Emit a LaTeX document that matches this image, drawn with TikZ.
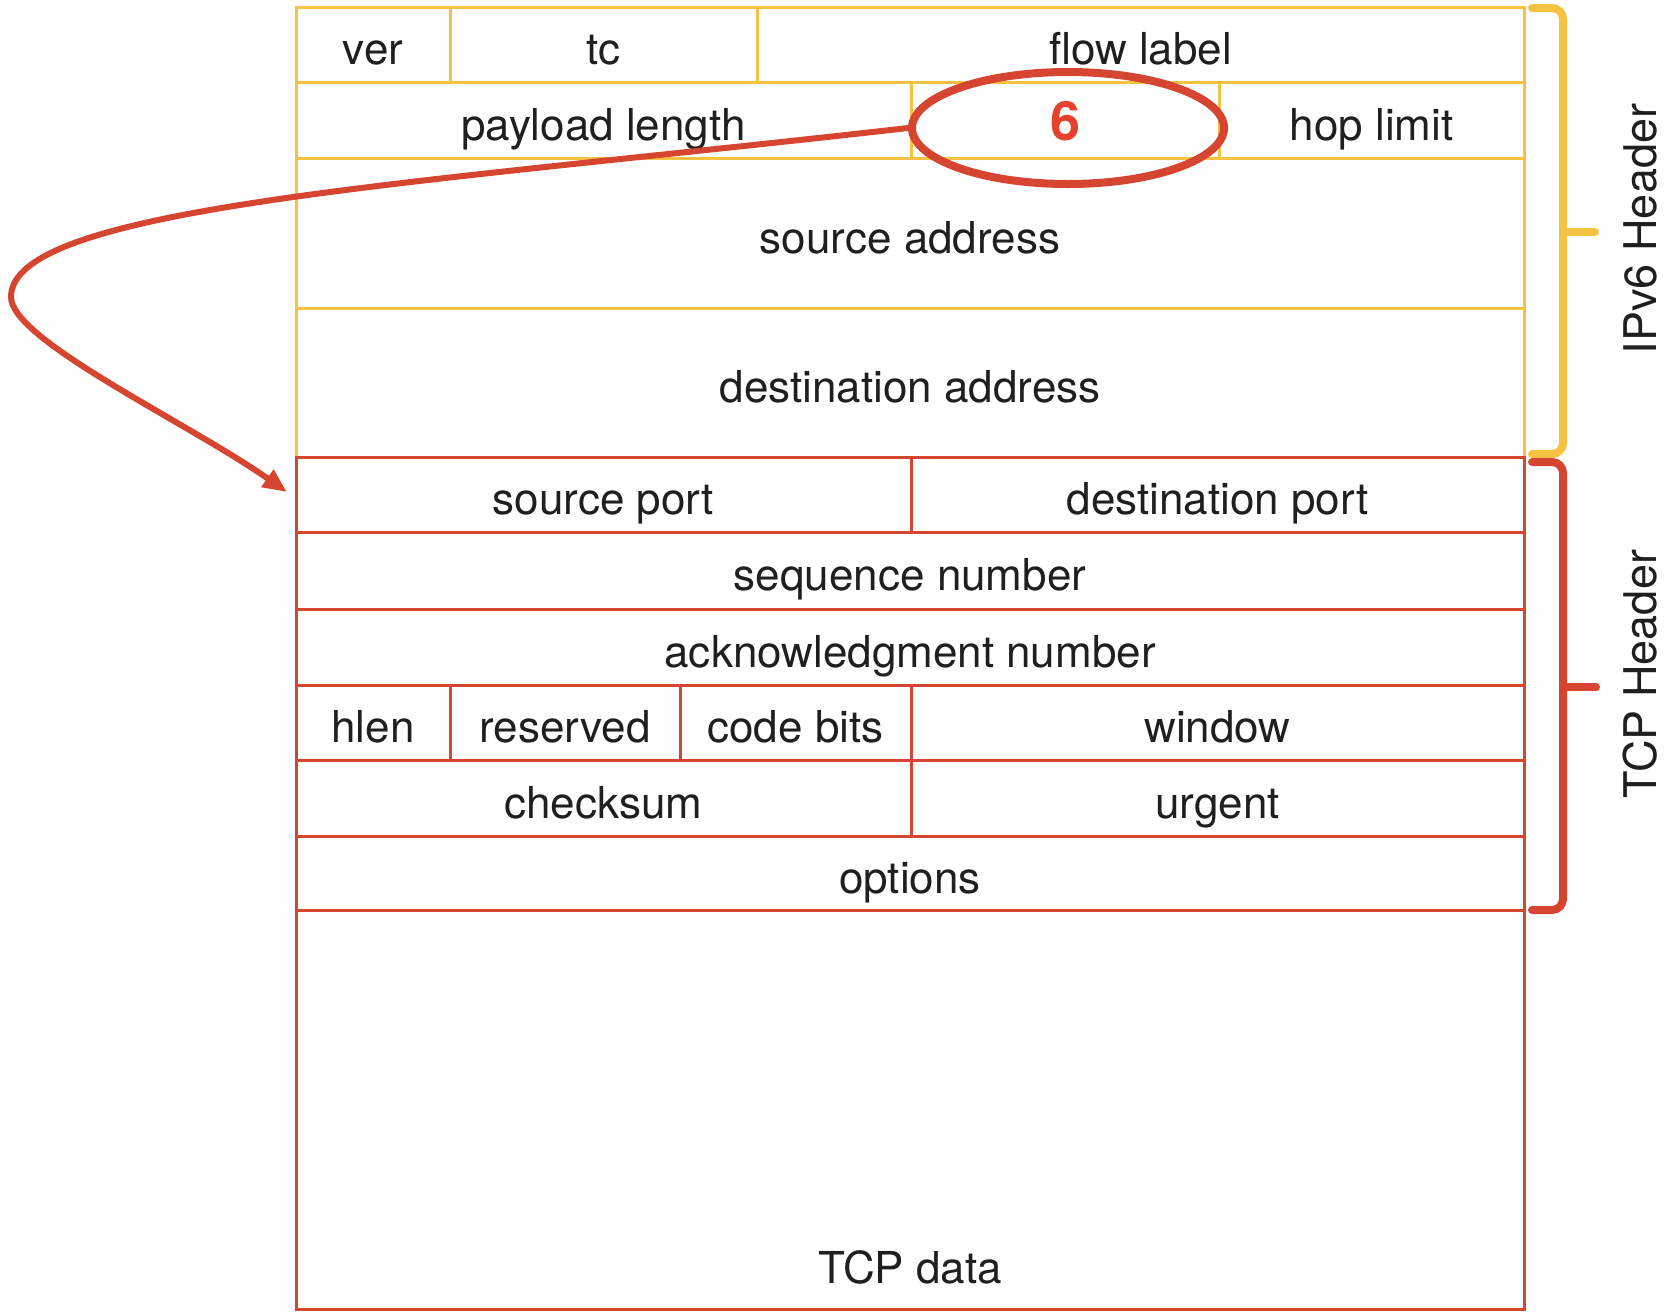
\documentclass[tikz,border=0pt]{standalone}
\usepackage{fontspec}
\setmainfont{TeX Gyre Heros}
\usetikzlibrary{shapes.geometric,arrows.meta}

\definecolor{hdrYellow}{HTML}{F5C242}
\definecolor{hdrRed}{HTML}{D64530}
\definecolor{txtGray}{HTML}{1F1F1F}
\definecolor{protoRed}{HTML}{E6412C}

% one header field: style, name, x1, y1, x2, y2, text
\newcommand{\fieldcell}[7]{%
  \pgfmathsetmacro{\fcW}{#5-#3}\pgfmathsetmacro{\fcH}{#6-#4}%
  \node[#1, minimum width=\fcW pt, minimum height=\fcH pt] (#2)
    at ({(#3+#5)/2},{(#4+#6)/2}) {#7};}

\tikzset{
  field/.style={rectangle, inner sep=0pt, line width=3pt, text=txtGray,
    font=\fontsize{44}{50}\selectfont, text height=40pt, text depth=0pt},
  ipfield/.style={field, draw=hdrYellow},
  tcpfield/.style={field, draw=hdrRed},
  brace/.style={line width=8pt, line cap=round, rounded corners=11pt},
  sidelabel/.style={rotate=90, anchor=south, inner sep=0pt, text=txtGray,
    font=\fontsize{45}{50}\selectfont},
  pointer/.style={draw=hdrRed, line width=6pt,
    -{Triangle[length=24pt,width=20pt]}},
}

\begin{document}
\begin{tikzpicture}[x=1pt,y=-1pt]
\useasboundingbox (0,0) rectangle (1664,1312);

% IPv6 header
\fieldcell{ipfield}{ver}{296}{7}{450}{82}{ver}
\fieldcell{ipfield}{tc}{450}{7}{757}{82}{tc}
\fieldcell{ipfield}{flow}{757}{7}{1524}{82}{flow label}
\fieldcell{ipfield}{plen}{296}{82}{911}{158}{payload length}
\fieldcell{ipfield, font=\fontsize{54}{60}\selectfont\bfseries, text=protoRed}{nxt}{911}{82}{1219}{158}{6}
\fieldcell{ipfield}{hop}{1219}{82}{1524}{158}{hop limit}
\fieldcell{ipfield}{src}{296}{158}{1524}{308}{source address}
\fieldcell{ipfield}{dst}{296}{308}{1524}{457}{destination address}

% TCP header
\fieldcell{tcpfield}{sport}{296}{457}{911}{532}{source port}
\fieldcell{tcpfield}{dport}{911}{457}{1524}{532}{destination port}
\fieldcell{tcpfield}{seq}{296}{532}{1524}{609}{sequence number}
\fieldcell{tcpfield}{ack}{296}{609}{1524}{685}{acknowledgment number}
\fieldcell{tcpfield}{hlen}{296}{685}{450}{760}{hlen}
\fieldcell{tcpfield}{rsv}{450}{685}{680}{760}{reserved}
\fieldcell{tcpfield}{code}{680}{685}{911}{760}{code bits}
\fieldcell{tcpfield}{win}{911}{685}{1524}{760}{window}
\fieldcell{tcpfield}{chk}{296}{760}{911}{836}{checksum}
\fieldcell{tcpfield}{urg}{911}{760}{1524}{836}{urgent}
\fieldcell{tcpfield}{opt}{296}{836}{1524}{910}{options}
\fieldcell{tcpfield}{data}{296}{910}{1524}{1309}{}
\node[anchor=base, inner sep=0pt, text=txtGray, font=\fontsize{44}{50}\selectfont]
  (datalbl) at (910,1283) {TCP data};

% braces and their labels
\draw[brace, hdrYellow] (1532,8) -- (1563,8) -- (1563,454) -- (1532,454);
\draw[brace, hdrYellow, rounded corners=0pt] (1563,232) -- (1595,232);
\draw[brace, hdrRed] (1532,462) -- (1563,462) -- (1563,910) -- (1532,910);
\draw[brace, hdrRed, rounded corners=0pt] (1563,687) -- (1596,687);
\node[sidelabel] (ipv6lbl) at (1657,229) {IPv6 Header};
\node[sidelabel] (tcplbl) at (1657,674) {TCP Header};

% next-header value highlighted and pointing at the TCP header
\node[draw=hdrRed, line width=8pt, ellipse, minimum width=312pt,
  minimum height=112pt, inner sep=0pt] (ring) at (1068,128) {};
\coordinate (tip) at (287,492);
\draw[pointer] (ring.west) .. controls (407,185) and (11,207) .. (11,297)
  .. controls (11,340) and (187,422) .. (tip);
\end{tikzpicture}
\end{document}
